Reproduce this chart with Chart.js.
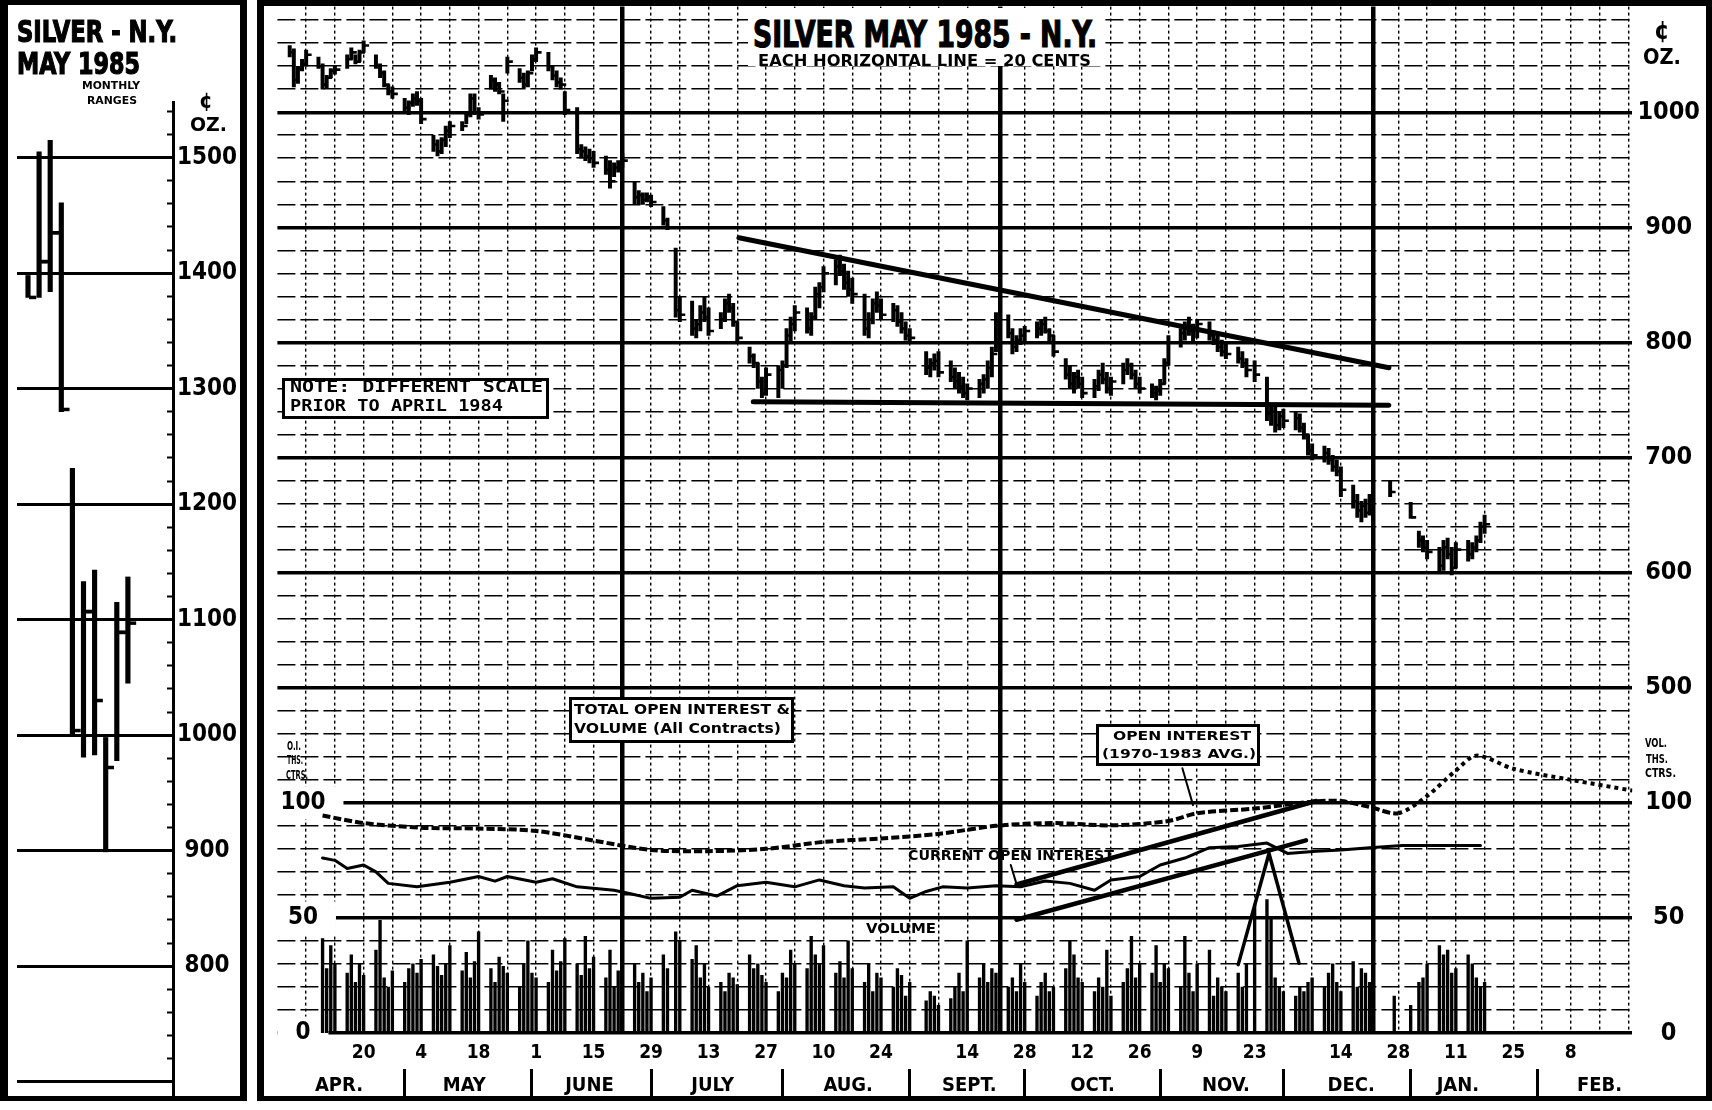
<!DOCTYPE html>
<html lang="en">
<head>
<meta charset="utf-8">
<title>Silver May 1985 - N.Y.</title>
<script src="https://cdn.jsdelivr.net/npm/chart.js@4.4.1/dist/chart.umd.min.js"></script>
<style>
    html, body { margin: 0; padding: 0; background: #fff; }
    #page { position: relative; width: 1712px; height: 1110px; overflow: hidden; background: #fff; }
    #page canvas { position: absolute; top: 0; }
    .frame { position: absolute; top: 0; box-sizing: border-box; border: 0 solid #000; }
    .box { position: absolute; box-sizing: border-box; border: 3px solid #000; background: #fff; }
    .blank { position: absolute; background: #fff; }
    .t { position: absolute; white-space: nowrap; line-height: 1; font-weight: bold; color: #000; transform-origin: 0 0; }
    .narrow { font-family: 'DejaVu Sans Condensed', 'DejaVu Sans', sans-serif; }
    .cond { font-family: 'DejaVu Sans Condensed', 'DejaVu Sans', sans-serif; }
    .mono { font-family: 'DejaVu Sans Mono', 'Liberation Mono', monospace; }
    .heavy { -webkit-text-stroke: 1.2px #000; }
</style>
</head>
<body>
<div id="page">
    <canvas id="ranges" width="232" height="1110" style="left:8px"></canvas>
    <canvas id="main" width="1442" height="1110" style="left:264px"></canvas>

    <div class="frame" style="left:0;width:247px;height:1101px;border-width:5px 7px 5px 8px"></div>
    <div class="frame" style="left:257px;width:1455px;height:1101px;border-width:6px 6px 5px 7px"></div>

    <!-- left panel -->
    <div class="t narrow heavy" style="left:17px;top:16px;font-size:31px" data-w="160">SILVER - N.Y.</div>
    <div class="t narrow heavy" style="left:17px;top:48px;font-size:31px" data-w="123">MAY 1985</div>
    <div class="t cond" style="left:82px;top:81px;font-size:10px" data-w="58">MONTHLY</div>
    <div class="t cond" style="left:87px;top:96px;font-size:10px" data-w="50">RANGES</div>
    <div class="t narrow" style="left:199px;top:90px;font-size:22px">¢</div>
    <div class="t narrow" style="left:190px;top:114px;font-size:20px" data-w="37">OZ.</div>

    <!-- main title -->
    <div class="blank" style="left:748px;top:8px;width:354px;height:58px"></div>
    <div class="t narrow heavy" style="left:753px;top:15px;font-size:38px" data-w="344">SILVER MAY 1985 - N.Y.</div>
    <div class="t cond" style="left:758px;top:53px;font-size:16px" data-w="333">EACH HORIZONTAL LINE = 20 CENTS</div>
    <div class="t narrow" style="left:1654px;top:18px;font-size:25px">¢</div>
    <div class="t narrow" style="left:1643px;top:47px;font-size:21px" data-w="38">OZ.</div>

    <!-- notes and lower panel labels -->
    <div class="box" style="left:282px;top:378px;width:267px;height:41px"></div>
    <div class="t mono" style="left:290px;top:380px;font-size:15px" data-w="253">NOTE: DIFFERENT SCALE</div>
    <div class="t mono" style="left:290px;top:399px;font-size:15px" data-w="213">PRIOR TO APRIL 1984</div>

    <div class="box" style="left:569px;top:697px;width:225px;height:46px"></div>
    <div class="t cond" style="left:574px;top:702px;font-size:14px" data-w="216">TOTAL OPEN INTEREST &amp;</div>
    <div class="t cond" style="left:574px;top:721px;font-size:14px" data-w="207">VOLUME (All Contracts)</div>

    <div class="box" style="left:1096px;top:724px;width:164px;height:42px"></div>
    <div class="t cond" style="left:1113px;top:729px;font-size:13px" data-w="138">OPEN INTEREST</div>
    <div class="t cond" style="left:1102px;top:747px;font-size:13px" data-w="154">(1970-1983 AVG.)</div>

    <div class="t cond" style="left:908px;top:848px;font-size:14px" data-w="206">CURRENT OPEN INTEREST</div>
    <div class="t cond" style="left:866px;top:921px;font-size:14px" data-w="70">VOLUME</div>

    <div class="t cond" style="left:287px;top:740px;font-size:12px" data-w="14">O.I.</div>
    <div class="t cond" style="left:287px;top:754px;font-size:12px" data-w="16">THS.</div>
    <div class="t cond" style="left:286px;top:769px;font-size:12px" data-w="22">CTRS.</div>
    <div class="t cond" style="left:1645px;top:737px;font-size:12px" data-w="22">VOL.</div>
    <div class="t cond" style="left:1646px;top:753px;font-size:12px" data-w="22">THS.</div>
    <div class="t cond" style="left:1645px;top:767px;font-size:12px" data-w="31">CTRS.</div>
</div>

<script>
// ---------------------------------------------------------------------------
// DATA  ("day" = days from Friday 1984-04-20)
// ---------------------------------------------------------------------------

const FIRST_TRADE = '1984-04-02'
const LAST_TRADE = '1985-01-18'
const HOLIDAYS = ['1984-07-04', '1984-09-03', '1984-11-22', '1984-12-25', '1985-01-01']

// daily high / low / close, cents per oz, one trading week per line
const priceHigh = [
    1058, 1055, 1040, 1046, 1054,
    1048, 1042, 1032, 1038, 1040,
    1050, 1056, 1050, 1054, 1062,
    1050, 1042, 1036, 1024, 1022,
    1012, 1010, 1016, 1018, 1012,
    980, 976, 978, 988, 992,
    992, 1000, 1016, 1016, 1004,
    1032, 1030, 1026, 1016, 1048,
    1038, 1034, 1036, 1050, 1056,
    1052, 1040, 1036, 1030, 1018,
    1004, 972, 970, 968, 966,
    962, 958, 956, 958, 964,
    940, 932, 930, 930, 928,
    918, 908, 882, 840,
    836, 820, 832, 840, 830,
    826, 838, 842, 834, 818,
    796, 790, 782, 770, 778,
    780, 784, 812, 822, 832,
    830, 826, 848, 852, 866,
    872, 876, 868, 862, 856,
    842, 826, 838, 844, 838,
    834, 832, 826, 818, 812,
    792, 786, 790, 792,
    784, 778, 774, 770, 764,
    768, 772, 784, 796, 826,
    824, 812, 806, 812, 814,
    818, 820, 822, 812, 806,
    786, 780, 774, 776, 770,
    768, 776, 782, 774, 770,
    782, 786, 782, 776, 770,
    764, 762, 768, 786, 806,
    812, 818, 822, 816, 820,
    818, 810, 806, 802, 800,
    796, 792, 786, 784,
    770, 746, 744, 740, 742,
    740, 738, 730, 720, 712,
    710, 708, 702, 698, 692,
    676, 668, 662, 664, 668,
    null, 680, null, null,
    661, 636, 632, 628,
    622, 628, 630, 622, 626,
    628, 626, 632, 644, 650,
]
const priceLow = [
    1048, 1022, 1025, 1036, 1040,
    1038, 1020, 1021, 1030, 1033,
    1038, 1046, 1042, 1044, 1052,
    1038, 1030, 1022, 1015, 1012,
    1000, 998, 1005, 1006, 990,
    966, 962, 964, 970, 978,
    984, 990, 996, 998, 994,
    1020, 1018, 1016, 992, 1034,
    1026, 1021, 1022, 1036, 1044,
    1036, 1028, 1022, 1020, 998,
    964, 960, 958, 956, 952,
    946, 934, 944, 948, 952,
    920, 920, 920, 922, 918,
    902, 898, 822, 818,
    806, 804, 810, 818, 806,
    812, 818, 826, 814, 800,
    782, 778, 760, 752, 754,
    752, 760, 778, 800, 810,
    808, 806, 820, 830, 844,
    850, 858, 846, 840, 834,
    806, 804, 816, 826, 820,
    818, 814, 808, 802, 800,
    772, 770, 776, 770,
    766, 760, 756, 752, 750,
    752, 756, 760, 770, 792,
    804, 790, 792, 798, 800,
    804, 806, 808, 800, 788,
    768, 760, 756, 760, 752,
    752, 758, 764, 756, 754,
    764, 772, 768, 760, 756,
    752, 750, 754, 764, 780,
    796, 802, 806, 800, 804,
    802, 798, 792, 788, 786,
    782, 778, 770, 766,
    732, 728, 722, 724, 726,
    724, 722, 716, 702, 698,
    696, 694, 688, 684, 666,
    656, 648, 644, 648, 650,
    null, 666, null, null,
    647, 622, 618, 612,
    600, 602, 612, 598, 604,
    610, 612, 618, 626, 634,
]
const priceClose = [
    1052, 1028, 1038, 1042, 1050,
    1040, 1024, 1030, 1036, 1037,
    1046, 1052, 1044, 1052, 1058,
    1040, 1034, 1024, 1018, 1016,
    1004, 1008, 1012, 1010, 994,
    972, 966, 976, 984, 988,
    988, 998, 1012, 1000, 998,
    1028, 1024, 1018, 1010, 1044,
    1030, 1024, 1034, 1046, 1052,
    1040, 1032, 1026, 1024, 1002,
    968, 966, 962, 960, 956,
    950, 940, 952, 954, 958,
    926, 928, 924, 926, 922,
    906, 900, 828, 824,
    812, 816, 826, 822, 810,
    820, 834, 830, 818, 804,
    788, 782, 766, 756, 772,
    776, 780, 806, 816, 826,
    812, 822, 842, 848, 860,
    866, 862, 852, 846, 842,
    812, 820, 834, 832, 824,
    828, 818, 812, 806, 804,
    778, 782, 784, 774,
    770, 766, 762, 756, 760,
    764, 768, 778, 790, 818,
    808, 796, 802, 806, 810,
    812, 816, 810, 806, 792,
    772, 764, 770, 764, 756,
    762, 772, 768, 760, 766,
    776, 780, 772, 764, 760,
    756, 758, 764, 782, 800,
    808, 814, 810, 812, 816,
    806, 802, 796, 792, 790,
    786, 782, 776, 772,
    738, 740, 728, 736, 732,
    734, 726, 720, 706, 702,
    704, 698, 692, 688, 672,
    662, 654, 658, 652, 664,
    null, 670, null, null,
    648, 628, 622, 618,
    606, 622, 616, 604, 620,
    616, 622, 628, 640, 642,
]

// daily volume, thousand contracts
const volume = [
    null, null, null, null, null,
    null, 41, 28, 38, 30,
    26, 34, 22, 30, 25,
    36, 49, 24, 20, 27,
    22, 28, 30, 26, 32,
    34, 29, 25, 30, 38,
    27, 35, 24, 31, 44,
    28, 22, 33, 29, 26,
    20, 30, 40, 26, 24,
    22, 36, 27, 31, 41,
    30, 25, 42, 28, 33,
    24, 36, 20, 27, 22,
    30, 22, 26, 18, 24,
    34, 28, 44, 40,
    32, 38, 24, 30, 20,
    22, 18, 26, 24, 21,
    34, 28, 30, 25, 22,
    18, 26, 24, 36, 30,
    28, 42, 34, 30, 38,
    26, 31, 24, 40, 28,
    22, 30, 18, 26, 24,
    20, 28, 25, 16, 22,
    14, 18, 16, 12,
    15, 20, 26, 18, 40,
    24, 30, 22, 28, 26,
    20, 24, 18, 30, 22,
    16, 22, 26, 18, 20,
    28, 40, 34, 24, 22,
    18, 24, 20, 36, 16,
    22, 28, 42, 24, 30,
    26, 38, 22, 30, 28,
    20, 42, 26, 18, 30,
    36, 16, 24, 20, 18,
    26, 20, 30, 56,
    58, 50, 24, 20, 18,
    16, 20, 18, 22, 24,
    20, 26, 30, 22, 18,
    31, 20, 28, 26, 22,
    null, null, 16, null,
    12, 22, 24, 30,
    38, 34, 36, 26, 28,
    34, 30, 24, 20, 22,
]

// current open interest, thousand contracts
const oiCurrentDays = [-10, -7, -4, 0, 3, 6, 13, 21, 28, 32, 35, 42, 46, 52, 61, 65, 70, 77, 80, 86,
    91, 98, 105, 111, 117, 122, 129, 133, 137, 141, 147, 154, 160, 166, 172, 178, 182, 189, 194, 200,
    206, 213, 220, 225, 232, 238, 245, 253, 260, 266, 272]
const oiCurrent = [76, 75, 71.5, 73, 70, 65, 63.5, 65.5, 68, 66, 68, 65.5, 67, 63.5, 62, 60.5, 58.5, 59, 62, 59.5,
    64, 65.5, 63.5, 66.5, 64, 63, 63.5, 58.5, 61.5, 63.5, 63, 64, 63.5, 66, 65, 62, 66.5, 68, 73, 76,
    80.5, 81, 82.5, 78, 79, 79.5, 80.5, 81.5, 81.5, 81.5, 81.5]

// open interest, 1970-1983 average
const oiAverageDays = [-10, 0, 14, 28, 42, 56, 70, 84, 98, 112, 126, 140, 154, 168, 182, 196, 203, 217,
    231, 238, 245, 252, 259, 266, 271, 280, 294, 309]
const oiAverage = [94.5, 91.2, 89.2, 88.8, 87.8, 83.6, 79.5, 79, 80, 83, 84.5, 86.5, 90, 91.2, 90.2, 92.1, 95.5, 97.5,
    100.5, 100.8, 98.2, 95.5, 103, 114, 120.5, 114.8, 110, 105.3]

// hand-drawn lines (day, value)
const resistanceDays = [91.4, 249.7]
const resistanceLine = [891, 778]
const supportDays = [94.9, 249.7]
const supportLine = [748.5, 745.5]
const oiUpperTrendDays = [159, 232]
const oiUpperTrend = [64.5, 100.8]
const oiLowerTrendDays = [159, 229.5]
const oiLowerTrend = [49.2, 83.7]
const spikeMarkDays = [213, 220.5, 227.8]
const spikeMark = [29.7, 78, 30.3]
const currentPointerDays = [157.6, 159]
const currentPointer = [73, 64.8]
const averagePointerDays = [199.4, 202]
const averagePointer = [115, 99]

// axis labels
const dateTickDays = [0, 14, 28, 42, 56, 70, 84, 98, 112, 126, 147, 161, 175, 189, 203, 217, 238, 252, 266, 280, 294]
const dateTickLabels = ['20', '4', '18', '1', '15', '29', '13', '27', '10', '24', '14', '28', '12', '26', '9', '23', '14', '28', '11', '25', '8']
const monthEndDays = [10, 41, 70, 102, 133, 161, 194, 224, 255, 286]
const monthLabelDays = [-6, 24.5, 55, 85, 118, 147.5, 177.5, 210, 240.5, 266.5, 301]
const monthLabels = ['APR.', 'MAY', 'JUNE', 'JULY', 'AUG.', 'SEPT.', 'OCT.', 'NOV.', 'DEC.', 'JAN.', 'FEB.']
const quarterDays = [63, 155, 246]
const rightTickValues = [1000, 900, 800, 700, 600, 500, 400, 300, 200]
const rightTickLabels = ['1000', '900', '800', '700', '600', '500', '100', '50', '0']
const oiTickValues = [0, 50, 100]

// monthly ranges before April 1984 (left panel)
const rangeSlot = [0, 1, 2, 3, 4, 5, 6, 7, 8, 9]
const rangeHigh = [1398, 1505, 1515, 1461, 1231, 1133, 1143, 998, 1115, 1137]
const rangeLow = [1379, 1379, 1384, 1280, 1000, 981, 983, 899, 978, 1045]
const rangeOpen = [null, null, 1410, 1435, null, null, 1107, null, null, 1089]
const rangeClose = [1379, 1410, 1435, 1282, 1004, 1107, 1030, 972, 1089, 1097]
const rangeTickLabels = [800, 900, 1000, 1100, 1200, 1300, 1400, 1500]

; (function () {
    'use strict'

    // ---------------------------------------------------------------------------
    // CONSTANTS
    // ---------------------------------------------------------------------------

    const FACE = "'DejaVu Sans Condensed', 'DejaVu Sans', sans-serif"
    const INK = '#000'
    const X_MIN = -21
    const X_MAX = 309
    const Y_MAX = 1091.8
    const OI_MAX = (Y_MAX - 200) / 2
    const DAY_MS = 86400000

    // ---------------------------------------------------------------------------
    // HELPERS
    // ---------------------------------------------------------------------------

    function utc(iso) {
        const p = iso.split('-').map(Number)
        return Date.UTC(p[0], p[1] - 1, p[2])
    }

    const DAY0 = utc('1984-04-20')

    function tradingDays(first, last, holidays) {
        const out = []
        for (let t = utc(first); t <= utc(last); t += DAY_MS) {
            const d = new Date(t)
            const wd = d.getUTCDay()
            if (wd === 0 || wd === 6) continue
            if (holidays.includes(d.toISOString().slice(0, 10))) continue
            out.push(Math.round((t - DAY0) / DAY_MS))
        }
        return out
    }

    function steps(from, to, step) {
        const out = []
        for (let v = from; v <= to + 1e-9; v += step) out.push(Math.round(v * 100) / 100)
        return out
    }

    function pairs(xs, ys) {
        return xs.map((x, i) => ({ x, y: ys[i] }))
    }

    function font(size) {
        return { family: FACE, size, weight: 'bold' }
    }

    function line(data, yAxisID, width, extra) {
        return Object.assign({
            type: 'line', data, yAxisID, xAxisID: 'x',
            borderColor: INK, borderWidth: width, pointRadius: 0,
            borderCapStyle: 'round', borderJoinStyle: 'round', fill: false, tension: 0,
        }, extra || {})
    }

    function setTicks(values) {
        return scale => { scale.ticks = values.map(value => ({ value })) }
    }

    // fixes an axis' thickness and drops the label overhang padding
    function fixSize(prop, px) {
        return scale => {
            scale[prop] = px
            scale.paddingTop = 0
            scale.paddingBottom = 0
            scale.paddingLeft = 0
            scale.paddingRight = 0
        }
    }

    // ---------------------------------------------------------------------------
    // MAIN CHART
    // ---------------------------------------------------------------------------

    const days = tradingDays(FIRST_TRADE, LAST_TRADE, HOLIDAYS)
    if (days.length !== priceHigh.length || days.length !== volume.length) {
        console.warn('length mismatch', days.length, priceHigh.length, priceLow.length, priceClose.length, volume.length)
    }

    const barData = []
    const closeData = []
    const volData = []
    days.forEach((d, i) => {
        if (priceHigh[i] != null) {
            barData.push({ x: d, y: [priceLow[i], priceHigh[i]] })
            closeData.push({ x: d + 0.8, y: priceClose[i] })
        }
        if (volume[i] != null) volData.push({ x: d, y: volume[i] })
    })

    // weekly (Friday) grid, with the heavy quarter lines replacing the nearest weekly line
    const weekTicks = steps(-14, 308, 7)
        .filter(v => !quarterDays.some(q => Math.abs(q - v) <= 1.5))
        .concat(quarterDays)
        .sort((a, b) => a - b)
    const priceGrid = steps(200, 1080, 20)
    const monthTicks = monthEndDays.concat(monthLabelDays).sort((a, b) => a - b)

    const isMajor = v => Math.round(v) % 100 === 0

    new Chart(document.getElementById('main'), {
        type: 'line',
        data: {
            datasets: [
                line(pairs(resistanceDays, resistanceLine), 'y', 5),
                line(pairs(supportDays, supportLine), 'y', 5),
                {
                    type: 'line', data: closeData, xAxisID: 'x', yAxisID: 'y', showLine: false,
                    pointStyle: 'line', pointRadius: 2.2, pointBorderWidth: 2.6,
                    pointBorderColor: INK, borderColor: INK,
                },
                {
                    type: 'bar', data: barData, xAxisID: 'x', yAxisID: 'y',
                    backgroundColor: INK, barThickness: 3.3, maxBarThickness: 3.3, grouped: false,
                },
                line(pairs(oiUpperTrendDays, oiUpperTrend), 'yo', 4.5),
                line(pairs(oiLowerTrendDays, oiLowerTrend), 'yo', 4.5),
                line(pairs(spikeMarkDays, spikeMark), 'yo', 3.5, { borderJoinStyle: 'miter' }),
                line(pairs(currentPointerDays, currentPointer), 'yo', 2),
                line(pairs(averagePointerDays, averagePointer), 'yo', 2),
                line(pairs(oiCurrentDays, oiCurrent), 'yo', 3),
                line(pairs(oiAverageDays, oiAverage), 'yo', 4, {
                    tension: 0.3,
                    borderDash: [8, 3],
                    borderCapStyle: 'butt',
                    segment: { borderDash: ctx => ctx.p0.parsed.x >= 252 ? [4, 4] : [8, 3] },
                }),
                {
                    type: 'bar', data: volData, xAxisID: 'x', yAxisID: 'yo',
                    backgroundColor: INK, barThickness: 2.7, maxBarThickness: 2.7, grouped: false,
                },
            ],
        },
        options: {
            responsive: false,
            maintainAspectRatio: false,
            animation: false,
            events: [],
            layout: { padding: { top: 3, bottom: 7, left: 0, right: 0 } },
            plugins: { legend: { display: false }, tooltip: { enabled: false } },
            scales: {
                x: {
                    type: 'linear', position: 'bottom', weight: 0, min: X_MIN, max: X_MAX, offset: false,
                    afterBuildTicks: setTicks(weekTicks),
                    afterFit: fixSize('height', 36),
                    grid: {
                        offset: false, color: INK, drawTicks: false,
                        lineWidth: c => (c.tick && quarterDays.includes(c.tick.value)) ? 4.5 : 1.4,
                    },
                    border: {
                        display: false,
                        dash: c => (c.tick && !quarterDays.includes(c.tick.value)) ? [3, 3] : [],
                    },
                    ticks: {
                        autoSkip: false, maxRotation: 0, minRotation: 0, padding: 9, color: INK, font: font(19),
                        callback: v => {
                            const i = dateTickDays.indexOf(v)
                            return i < 0 ? '' : dateTickLabels[i]
                        },
                    },
                },
                xm: {
                    type: 'linear', position: 'bottom', weight: 1, min: X_MIN, max: X_MAX, offset: false,
                    afterBuildTicks: setTicks(monthTicks),
                    afterFit: fixSize('height', 34),
                    grid: {
                        display: true, offset: false, drawOnChartArea: false, drawTicks: true,
                        tickLength: 30, tickWidth: 3,
                        tickColor: c => (c.tick && monthEndDays.includes(c.tick.value)) ? INK : 'rgba(0,0,0,0)',
                    },
                    border: { display: false },
                    ticks: {
                        autoSkip: false, maxRotation: 0, minRotation: 0, padding: -25, color: INK, font: font(20),
                        callback: v => {
                            const i = monthLabelDays.indexOf(v)
                            return i < 0 ? '' : monthLabels[i]
                        },
                    },
                },
                y: {
                    type: 'linear', position: 'right', min: 200, max: Y_MAX,
                    afterBuildTicks: setTicks(priceGrid),
                    afterFit: fixSize('width', 73.6),
                    grid: {
                        color: INK, drawTicks: false,
                        lineWidth: c => (c.tick && isMajor(c.tick.value)) ? 3.5 : 1.6,
                    },
                    border: {
                        display: false,
                        dash: c => (c.tick && !isMajor(c.tick.value)) ? [18, 5] : [],
                    },
                    ticks: {
                        autoSkip: false, padding: 5, crossAlign: 'center', color: INK, font: font(25),
                        callback: v => {
                            const i = rightTickValues.indexOf(v)
                            return i < 0 ? '' : rightTickLabels[i]
                        },
                    },
                },
                yo: {
                    type: 'linear', position: 'left', min: 0, max: OI_MAX,
                    afterBuildTicks: setTicks(oiTickValues),
                    afterFit: fixSize('width', 13.4),
                    grid: { display: false },
                    border: { display: false },
                    ticks: {
                        autoSkip: false, mirror: true, padding: 3, crossAlign: 'center', color: INK, font: font(24),
                        showLabelBackdrop: true, backdropColor: '#fff', backdropPadding: { x: 18, y: 2 },
                        callback: v => String(v),
                    },
                },
            },
        },
    })

    // ---------------------------------------------------------------------------
    // LEFT PANEL — MONTHLY RANGES
    // ---------------------------------------------------------------------------

    const rangeBars = rangeSlot.map((s, i) => ({ x: s, y: [rangeLow[i], rangeHigh[i]] }))
    const rangeOpens = rangeSlot.map((s, i) => ({ x: s - 0.42, y: rangeOpen[i] })).filter(p => p.y != null)
    const rangeCloses = rangeSlot.map((s, i) => ({ x: s + 0.42, y: rangeClose[i] })).filter(p => p.y != null)
    const tickPoint = {
        type: 'line', showLine: false, pointStyle: 'line', pointRadius: 3.6, pointBorderWidth: 3.5,
        pointBorderColor: INK, borderColor: INK,
    }

    new Chart(document.getElementById('ranges'), {
        type: 'bar',
        data: {
            datasets: [
                { type: 'bar', data: rangeBars, backgroundColor: INK, barThickness: 4.5, maxBarThickness: 4.5 },
                Object.assign({ data: rangeOpens }, tickPoint),
                Object.assign({ data: rangeCloses }, tickPoint),
            ],
        },
        options: {
            responsive: false,
            maintainAspectRatio: false,
            animation: false,
            events: [],
            layout: { padding: { left: 9, top: 102, bottom: 14, right: 0 } },
            plugins: { legend: { display: false }, tooltip: { enabled: false } },
            scales: {
                x: { type: 'linear', display: false, min: -0.991, max: 13.063, offset: false, grid: { offset: false } },
                y: {
                    type: 'linear', position: 'right', min: 687.6, max: 1548.2,
                    afterBuildTicks: setTicks(steps(700, 1540, 20)),
                    afterFit: fixSize('width', 67),
                    grid: {
                        drawTicks: true, tickLength: -6, tickWidth: 2, tickColor: INK, lineWidth: 3,
                        color: c => (c.tick && isMajor(c.tick.value)) ? INK : 'rgba(0,0,0,0)',
                    },
                    border: { display: true, color: INK, width: 3 },
                    ticks: {
                        autoSkip: false, padding: 10, crossAlign: 'center', color: INK, font: font(24),
                        callback: v => rangeTickLabels.includes(v) ? String(v) : '',
                    },
                },
            },
        },
    })

    // ---------------------------------------------------------------------------
    // TEXT FITTING
    // ---------------------------------------------------------------------------

    function fitTexts() {
        document.querySelectorAll('.t[data-w]').forEach(el => {
            el.style.transform = 'none'
            const w = el.getBoundingClientRect().width
            if (w > 0) el.style.transform = 'scaleX(' + (Number(el.dataset.w) / w).toFixed(4) + ')'
        })
    }

    fitTexts()
    if (document.fonts && document.fonts.ready) document.fonts.ready.then(fitTexts)
})()
</script>
</body>
</html>
